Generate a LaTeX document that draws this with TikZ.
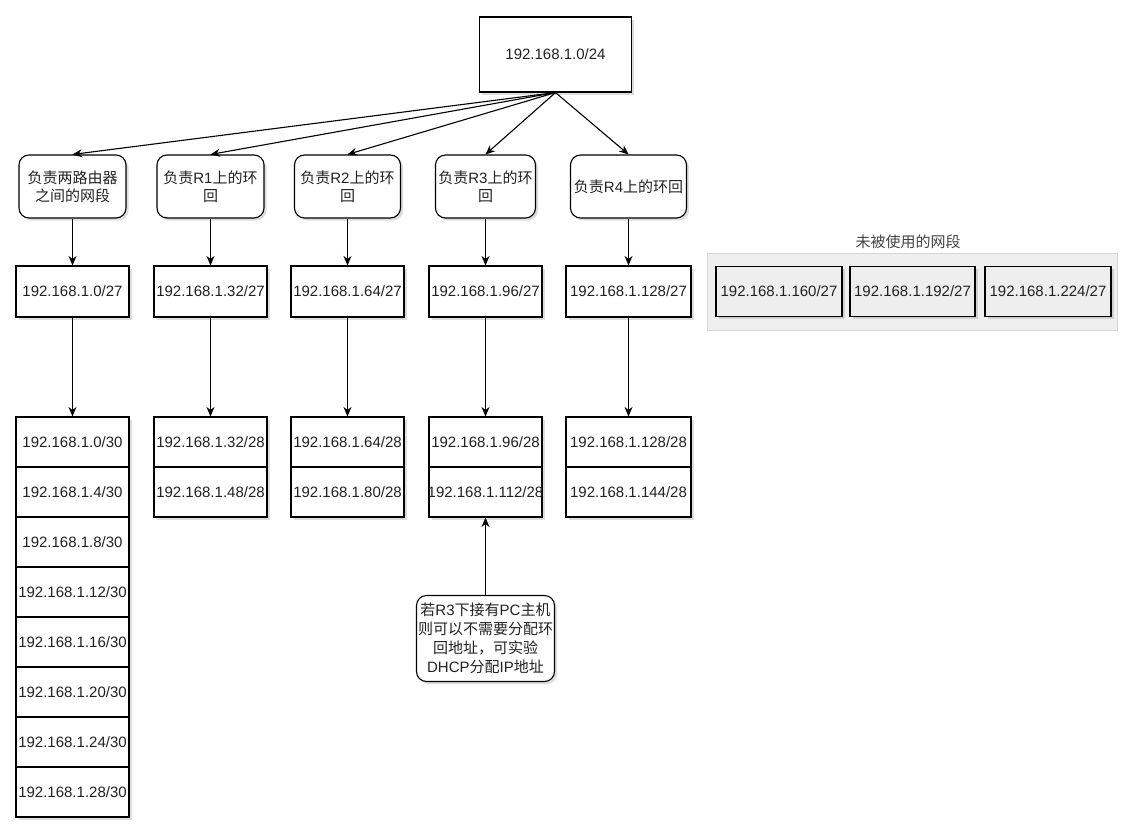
\documentclass[tikz,border=0pt]{standalone}
\usepackage{fontspec}
\setmainfont{Liberation Sans}
\newfontfamily\cjk{Noto Sans CJK SC}
\usetikzlibrary{arrows.meta,shadows,positioning}
\definecolor{txt}{HTML}{222222}
\definecolor{grpfill}{HTML}{EFEFEF}
\definecolor{grpline}{HTML}{D6D6D6}
\definecolor{cellfill}{HTML}{EEEEEE}
\tikzset{
  shd/.style={drop shadow={shadow xshift=2.5pt,shadow yshift=-2.5pt,opacity=0.22,fill=black!60}},
  box/.style={draw=black,line width=1.1pt,fill=white,inner sep=0pt,align=center,
    text=txt,font=\fontsize{15}{18}\selectfont,shd},
  rbox/.style={box,rounded corners=10pt},
  grycell/.style={box,fill=cellfill},
  arr/.style={-{Stealth[length=9.5pt,width=8pt]},line width=1.1pt,black},
}
\begin{document}
\begin{tikzpicture}[x=1pt,y=-1pt]
\useasboundingbox (0,0) rectangle (1135,830);
\fill[white] (0,0) rectangle (1135,830);

% top
\node[box,minimum width=152,minimum height=75] (top) at (555.5,54.5) {192.168.1.0/24};

% rounded category boxes
\node[rbox,minimum width=107,minimum height=63] (b1) at (72.5,186.5) {{\cjk 负责两路由器}\\{\cjk 之间的网段}};
\node[rbox,minimum width=107,minimum height=63] (b2) at (210.5,186.5) {{\cjk 负责}R1{\cjk 上的环}\\{\cjk 回}};
\node[rbox,minimum width=106,minimum height=63] (b3) at (347.5,186.5) {{\cjk 负责}R2{\cjk 上的环}\\{\cjk 回}};
\node[rbox,minimum width=100,minimum height=63] (b4) at (485.5,186.5) {{\cjk 负责}R3{\cjk 上的环}\\{\cjk 回}};
\node[rbox,minimum width=116,minimum height=63] (b5) at (628.5,186.5) {{\cjk 负责}R4{\cjk 上的环回}};

% /27 boxes
\node[box,minimum width=113,minimum height=51] (n1) at (72.5,291.5) {192.168.1.0/27};
\node[box,minimum width=113,minimum height=51] (n2) at (210.5,291.5) {192.168.1.32/27};
\node[box,minimum width=113,minimum height=51] (n3) at (347.5,291.5) {192.168.1.64/27};
\node[box,minimum width=113,minimum height=51] (n4) at (485.5,291.5) {192.168.1.96/27};
\node[box,minimum width=125,minimum height=51] (n5) at (628.5,291.5) {192.168.1.128/27};

% /30 stack
\foreach \i/\t in {1/0,2/4,3/8,4/12,5/16,6/20,7/24,8/28}{
  \node[box,minimum width=113,minimum height=50] (s\i) at (72.5,{442+50*(\i-1)}) {\makebox[0pt]{192.168.1.\t/30}};
}

% /28 stacks
\node[box,minimum width=113,minimum height=50] (p1) at (210.5,442) {192.168.1.32/28};
\node[box,minimum width=113,minimum height=50] (p2) at (210.5,492) {192.168.1.48/28};
\node[box,minimum width=113,minimum height=50] (q1) at (347.5,442) {192.168.1.64/28};
\node[box,minimum width=113,minimum height=50] (q2) at (347.5,492) {192.168.1.80/28};
\node[box,minimum width=113,minimum height=50] (r1) at (485.5,442) {192.168.1.96/28};
\node[box,minimum width=113,minimum height=50] (r2) at (485.5,492) {\makebox[0pt]{192.168.1.112/28}};
\node[box,minimum width=125,minimum height=50] (t1) at (628.5,442) {192.168.1.128/28};
\node[box,minimum width=125,minimum height=50] (t2) at (628.5,492) {192.168.1.144/28};

% note
\node[rbox,minimum width=138,minimum height=86,font=\fontsize{15}{19}\selectfont] (note) at (485.5,638.5)
  {{\cjk 若}R3{\cjk 下接有}PC{\cjk 主机}\\{\cjk 则可以不需要分配环}\\{\cjk 回地址，可实验}\\DHCP{\cjk 分配}IP{\cjk 地址}};

% unused group
\node[draw=grpline,fill=grpfill,line width=1pt,minimum width=410,minimum height=77,inner sep=0pt] (grp) at (912,291.5) {};
\node[text=txt!85,font=\cjk\fontsize{15}{18}\selectfont,inner sep=0pt] (grplbl) at (908,242) {未被使用的网段};
\node[grycell,minimum width=126,minimum height=50] (u1) at (779,291.5) {192.168.1.160/27};
\node[grycell,minimum width=125,minimum height=50] (u2) at (912.5,291.5) {192.168.1.192/27};
\node[grycell,minimum width=126,minimum height=50] (u3) at (1048,291.5) {192.168.1.224/27};

% connectors
\foreach \b in {b1,b2,b3,b4,b5}{\draw[arr] (top.south) -- (\b.north);}
\draw[arr] (b1) -- (n1);
\draw[arr] (b2) -- (n2);
\draw[arr] (b3) -- (n3);
\draw[arr] (b4) -- (n4);
\draw[arr] (b5) -- (n5);
\draw[arr] (n1) -- (s1);
\draw[arr] (n2) -- (p1);
\draw[arr] (n3) -- (q1);
\draw[arr] (n4) -- (r1);
\draw[arr] (n5) -- (t1);
\draw[arr] (note) -- (r2);
\end{tikzpicture}
\end{document}
